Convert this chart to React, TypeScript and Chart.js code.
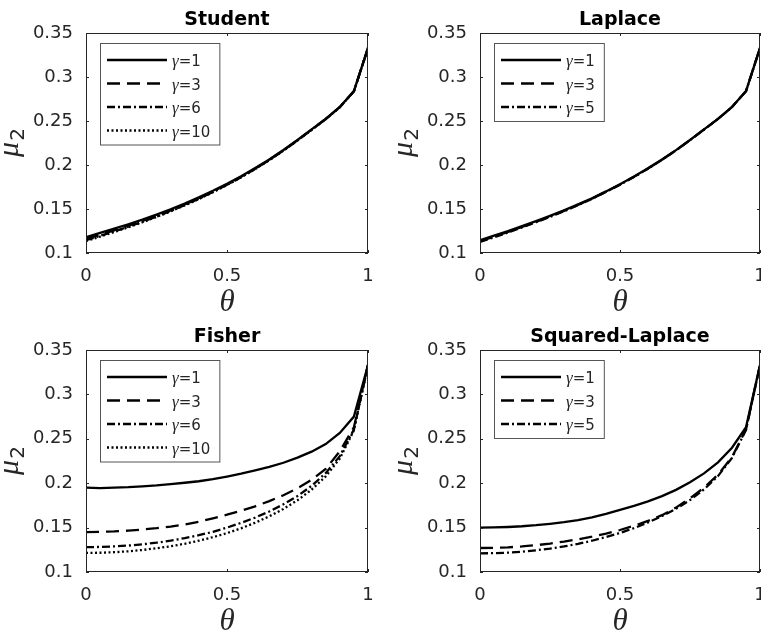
import React, { useEffect, useRef } from 'react';
import { Chart, registerables } from 'chart.js';

Chart.register(...registerables);

// ---------- data ----------
const thetas = [0, 0.05, 0.1, 0.15, 0.2, 0.25, 0.3, 0.35, 0.4, 0.45, 0.5, 0.55, 0.6, 0.65, 0.7, 0.75, 0.8, 0.85, 0.9, 0.95, 1];

const xTickValues = [0, 0.5, 1];
const xTickLabels = ['0', '0.5', '1'];
const yTickValues = [0.1, 0.15, 0.2, 0.25, 0.3, 0.35];
const yTickLabels = ['0.1', '0.15', '0.2', '0.25', '0.3', '0.35'];

const panelTitles = ['Student', 'Laplace', 'Fisher', 'Squared-Laplace'];
const gammasFour = ['1', '3', '6', '10'];
const gammasThree = ['1', '3', '5'];

const studentG1 = [0.118, 0.1228, 0.1276, 0.1327, 0.138, 0.1437, 0.1497, 0.1562, 0.1632, 0.1707, 0.1787, 0.1873, 0.1965, 0.2064, 0.217, 0.2285, 0.2405, 0.2525, 0.266, 0.284, 0.333];
const studentG3 = [0.116, 0.1208, 0.1258, 0.131, 0.1365, 0.1423, 0.1485, 0.1551, 0.1622, 0.1698, 0.1779, 0.1866, 0.1959, 0.2059, 0.2166, 0.2282, 0.2402, 0.2523, 0.2658, 0.2838, 0.333];
const studentG6 = [0.1145, 0.1195, 0.1246, 0.1299, 0.1355, 0.1414, 0.1477, 0.1544, 0.1616, 0.1693, 0.1775, 0.1862, 0.1956, 0.2056, 0.2164, 0.228, 0.24, 0.2521, 0.2657, 0.2837, 0.333];
const studentG10 = [0.1135, 0.1186, 0.1238, 0.1292, 0.1349, 0.1409, 0.1473, 0.1541, 0.1613, 0.169, 0.1772, 0.186, 0.1954, 0.2055, 0.2163, 0.2279, 0.2399, 0.252, 0.2656, 0.2836, 0.333];

const laplaceG1 = [0.1145, 0.1197, 0.125, 0.1305, 0.1362, 0.1422, 0.1485, 0.1552, 0.1623, 0.17, 0.1782, 0.1869, 0.1962, 0.2062, 0.2169, 0.2284, 0.2404, 0.2525, 0.266, 0.284, 0.333];
const laplaceG3 = [0.1132, 0.1185, 0.1239, 0.1295, 0.1353, 0.1414, 0.1478, 0.1546, 0.1618, 0.1696, 0.1778, 0.1866, 0.196, 0.206, 0.2167, 0.2283, 0.2403, 0.2524, 0.2659, 0.2839, 0.333];
const laplaceG5 = [0.1125, 0.1178, 0.1233, 0.129, 0.1349, 0.141, 0.1475, 0.1543, 0.1616, 0.1694, 0.1776, 0.1864, 0.1958, 0.2059, 0.2166, 0.2282, 0.2402, 0.2523, 0.2658, 0.2838, 0.333];

const fisherG1 = [0.195, 0.1945, 0.195, 0.1955, 0.1965, 0.1975, 0.199, 0.2005, 0.2022, 0.2045, 0.2075, 0.2108, 0.2145, 0.2185, 0.223, 0.2288, 0.2355, 0.244, 0.2565, 0.275, 0.333];
const fisherG3 = [0.145, 0.1452, 0.1457, 0.1466, 0.1478, 0.1493, 0.1512, 0.1535, 0.1565, 0.1605, 0.1645, 0.169, 0.174, 0.1798, 0.1865, 0.1943, 0.2038, 0.216, 0.236, 0.263, 0.333];
const fisherG6 = [0.128, 0.1282, 0.1288, 0.1298, 0.1312, 0.133, 0.1353, 0.1381, 0.1414, 0.1453, 0.15, 0.1553, 0.1613, 0.1682, 0.1762, 0.1856, 0.197, 0.2113, 0.2305, 0.2605, 0.333];
const fisherG10 = [0.1215, 0.1217, 0.1223, 0.1233, 0.1248, 0.1267, 0.129, 0.1318, 0.1352, 0.1392, 0.1438, 0.1492, 0.1555, 0.1627, 0.171, 0.1808, 0.1927, 0.2077, 0.2277, 0.2595, 0.333];

const sqLaplaceG1 = [0.15, 0.1502, 0.1507, 0.1515, 0.1527, 0.1543, 0.1562, 0.1585, 0.1615, 0.1655, 0.17, 0.1745, 0.1795, 0.1855, 0.1925, 0.201, 0.211, 0.2235, 0.24, 0.263, 0.333];
const sqLaplaceG3 = [0.127, 0.1272, 0.1278, 0.1288, 0.1302, 0.132, 0.1342, 0.1368, 0.1398, 0.1433, 0.1473, 0.152, 0.1575, 0.164, 0.1725, 0.183, 0.195, 0.2095, 0.2295, 0.2605, 0.333];
const sqLaplaceG5 = [0.121, 0.1212, 0.1218, 0.1229, 0.1244, 0.1264, 0.1288, 0.1317, 0.1352, 0.1393, 0.144, 0.1494, 0.1557, 0.163, 0.1712, 0.181, 0.193, 0.208, 0.2285, 0.26, 0.333];

// ---------- styles ----------
const DASHES: number[][] = [[], [13, 7], [8, 3, 2, 3], [2, 2.5]];
const TICK_FONT = { family: 'DejaVu Sans', size: 18 };
const TEXT_COLOR = '#262626';
const LINE_W = 2.3;

type Geo = { left: number; top: number; width: number; height: number; padL: number; padR: number; padT: number; yw: number; xh: number };

function makeDecorPlugin(title: string) {
  return {
    id: 'matlabDecor',
    afterDraw(chart: any) {
      const ctx = chart.ctx as CanvasRenderingContext2D;
      const a = chart.chartArea;
      const xs = chart.scales.x;
      const ys = chart.scales.y;
      ctx.save();
      // axes box
      ctx.strokeStyle = TEXT_COLOR;
      ctx.lineWidth = 1;
      ctx.setLineDash([]);
      ctx.strokeRect(a.left + 0.5, a.top + 0.5, a.right - a.left - 1, a.bottom - a.top - 1);
      // inner ticks on all four sides
      const tl = 3;
      ctx.beginPath();
      xTickValues.forEach((v) => {
        const px = Math.round(xs.getPixelForValue(v)) + 0.5;
        ctx.moveTo(px, a.bottom);
        ctx.lineTo(px, a.bottom - tl);
        ctx.moveTo(px, a.top);
        ctx.lineTo(px, a.top + tl);
      });
      yTickValues.forEach((v) => {
        const py = Math.round(ys.getPixelForValue(v)) + 0.5;
        ctx.moveTo(a.left, py);
        ctx.lineTo(a.left + tl, py);
        ctx.moveTo(a.right, py);
        ctx.lineTo(a.right - tl, py);
      });
      ctx.stroke();

      // title
      const cx = (a.left + a.right) / 2;
      ctx.fillStyle = '#000';
      ctx.font = 'bold 19px "DejaVu Sans"';
      ctx.textAlign = 'center';
      ctx.textBaseline = 'alphabetic';
      ctx.fillText(title, cx, a.top - 8);

      // x axis label
      ctx.fillStyle = TEXT_COLOR;
      ctx.font = 'italic 31px "Liberation Serif"';
      ctx.fillText('θ', cx, a.bottom + 58);

      // y axis label (mu_2), rotated
      ctx.save();
      ctx.translate(a.left - 71, (a.top + a.bottom) / 2);
      ctx.rotate(-Math.PI / 2);
      const muFont = 'italic 30px "Liberation Serif"';
      const subFont = '20px "DejaVu Sans"';
      ctx.font = muFont;
      const wMu = ctx.measureText('μ').width;
      ctx.font = subFont;
      const w2 = ctx.measureText('2').width;
      const x0 = -(wMu + w2) / 2;
      ctx.textAlign = 'left';
      ctx.font = muFont;
      ctx.fillText('μ', x0, 3);
      ctx.font = subFont;
      ctx.fillText('2', x0 + wMu + 1, 9);
      ctx.restore();

      // legend
      const ds = chart.data.datasets;
      const gFont = 'italic 17px "Liberation Serif"';
      const tFont = '15px "DejaVu Sans"';
      const texts = ds.map((d: any) => String(d.label).replace('γ', ''));
      let maxW = 0;
      texts.forEach((t: string) => {
        ctx.font = gFont;
        const wg = ctx.measureText('γ').width;
        ctx.font = tFont;
        const wt = ctx.measureText(t).width;
        maxW = Math.max(maxW, wg + wt);
      });
      const bx = a.left + 14;
      const by = a.top + 10;
      const rowH = 23.5;
      const bw = 72 + maxW + 9;
      const bh = 17 + rowH * (ds.length - 1) + 14;
      ctx.fillStyle = '#fff';
      ctx.fillRect(bx, by, bw, bh);
      ctx.strokeStyle = '#555';
      ctx.lineWidth = 1;
      ctx.setLineDash([]);
      ctx.strokeRect(bx + 0.5, by + 0.5, bw, bh);
      ds.forEach((d: any, i: number) => {
        const ry = by + 17 + rowH * i;
        ctx.save();
        ctx.strokeStyle = '#000';
        ctx.lineWidth = LINE_W;
        ctx.setLineDash(d.borderDash || []);
        ctx.beginPath();
        ctx.moveTo(bx + 7, ry);
        ctx.lineTo(bx + 67, ry);
        ctx.stroke();
        ctx.restore();
        ctx.fillStyle = TEXT_COLOR;
        ctx.textAlign = 'left';
        ctx.textBaseline = 'alphabetic';
        ctx.font = gFont;
        const wg = ctx.measureText('γ').width;
        ctx.fillText('γ', bx + 72, ry + 6);
        ctx.font = tFont;
        ctx.fillText(texts[i], bx + 72 + wg, ry + 6);
      });
      ctx.restore();
    },
  };
}

function Panel({ title, gammas, series, geo }: { title: string; gammas: string[]; series: number[][]; geo: Geo }) {
  const ref = useRef<HTMLCanvasElement | null>(null);
  useEffect(() => {
    if (!ref.current) return;
    const datasets = series.map((s, k) => ({
      label: 'γ=' + gammas[k],
      data: thetas.map((t, i) => ({ x: t, y: s[i] })),
      borderColor: '#000',
      backgroundColor: '#000',
      borderWidth: LINE_W,
      borderDash: DASHES[k],
      pointRadius: 0,
      fill: false,
      tension: 0,
    }));
    const chart = new Chart(ref.current, {
      type: 'line',
      data: { datasets },
      options: {
        animation: false,
        responsive: false,
        devicePixelRatio: 1,
        layout: { padding: { left: geo.padL, right: geo.padR, top: geo.padT, bottom: 0 } },
        plugins: { legend: { display: false }, tooltip: { enabled: false }, title: { display: false } },
        scales: {
          x: {
            type: 'linear',
            min: 0,
            max: 1,
            grid: { display: false },
            border: { display: false },
            afterBuildTicks: (s: any) => {
              s.ticks = xTickValues.map((v) => ({ value: v }));
            },
            afterFit: (s: any) => {
              s.height = geo.xh;
            },
            ticks: {
              padding: 5,
              maxRotation: 0,
              autoSkip: false,
              color: TEXT_COLOR,
              font: TICK_FONT,
              callback: (_v: any, i: number) => xTickLabels[i],
            },
          },
          y: {
            type: 'linear',
            min: 0.1,
            max: 0.35,
            grid: { display: false },
            border: { display: false },
            afterBuildTicks: (s: any) => {
              s.ticks = yTickValues.map((v) => ({ value: v }));
            },
            afterFit: (s: any) => {
              s.width = geo.yw;
            },
            ticks: {
              padding: 5,
              autoSkip: false,
              color: TEXT_COLOR,
              font: TICK_FONT,
              callback: (_v: any, i: number) => yTickLabels[i],
            },
          },
        },
      } as any,
      plugins: [makeDecorPlugin(title)],
    });
    return () => chart.destroy();
  }, []);
  return (
    <canvas
      ref={ref}
      width={geo.width}
      height={geo.height}
      style={{ position: 'absolute', left: geo.left, top: geo.top, width: geo.width, height: geo.height }}
    />
  );
}

const geoTL: Geo = { left: 0, top: 0, width: 380, height: 317, padL: 0, padR: 12, padT: 33, yw: 86, xh: 64 };
const geoTR: Geo = { left: 380, top: 0, width: 395, height: 317, padL: 0, padR: 15, padT: 33, yw: 100, xh: 64 };
const geoBL: Geo = { left: 0, top: 317, width: 380, height: 318, padL: 0, padR: 12, padT: 33, yw: 86, xh: 63 };
const geoBR: Geo = { left: 380, top: 317, width: 395, height: 318, padL: 0, padR: 15, padT: 33, yw: 100, xh: 63 };

export default function App() {
  return (
    <div style={{ position: 'fixed', left: 0, top: 0, width: 761, height: 635, overflow: 'hidden', background: '#fff' }}>
      <Panel title={panelTitles[0]} gammas={gammasFour} series={[studentG1, studentG3, studentG6, studentG10]} geo={geoTL} />
      <Panel title={panelTitles[1]} gammas={gammasThree} series={[laplaceG1, laplaceG3, laplaceG5]} geo={geoTR} />
      <Panel title={panelTitles[2]} gammas={gammasFour} series={[fisherG1, fisherG3, fisherG6, fisherG10]} geo={geoBL} />
      <Panel title={panelTitles[3]} gammas={gammasThree} series={[sqLaplaceG1, sqLaplaceG3, sqLaplaceG5]} geo={geoBR} />
    </div>
  );
}
